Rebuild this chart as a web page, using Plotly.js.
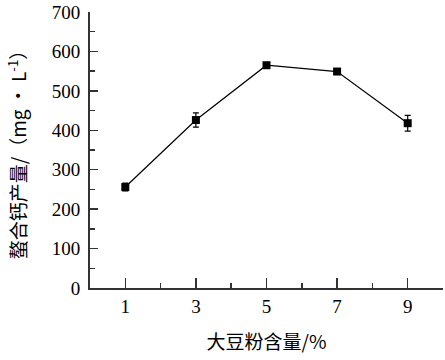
<!DOCTYPE html>
<html><head><meta charset="utf-8">
<script src="https://cdn.plot.ly/plotly-3.0.1.min.js"></script>
<style>html,body{margin:0;padding:0;background:#fff}</style>
</head><body><div id="c" style="width:445px;height:360px"></div>
<script>
const soyContent = [1, 3, 5, 7, 9];
const chelateYield = [256, 426, 565, 549, 418];
const yieldError = [10, 18, 5, 5, 20];
const xTickVals = [1, 3, 5, 7, 9];
const xTickText = ['1', '3', '5', '7', '9'];
const yTickVals = [0, 100, 200, 300, 400, 500, 600, 700];

const fontFam = 'Liberation Serif, Times New Roman, Noto Sans CJK SC, serif';
const trace = {
  x: soyContent, y: chelateYield, type: 'scatter', mode: 'lines+markers',
  line: {color: '#000', width: 1.2},
  marker: {symbol: 'square', size: 8, color: '#000'},
  error_y: {type: 'data', array: yieldError, visible: true, color: '#000', thickness: 1.2, width: 3}
};
const layout = {
  width: 445, height: 360,
  margin: {l: 90, r: 2, t: 12, b: 72},
  paper_bgcolor: '#fff', plot_bgcolor: '#fff',
  showlegend: false,
  font: {family: fontFam, color: '#000', size: 19},
  xaxis: {
    range: [0, 10], tickvals: xTickVals, ticktext: xTickText,
    ticks: 'inside', ticklen: 10, tickwidth: 1.5, tickcolor: '#333',
    minor: {tickvals: [2, 4, 6, 8, 10], ticks: 'inside', ticklen: 5, tickwidth: 1.5, tickcolor: '#333'},
    showline: true, linecolor: '#333', linewidth: 2, showgrid: false, zeroline: false,
    tickfont: {size: 19, family: fontFam},
    title: {text: '大豆粉含量/%', font: {size: 19, family: 'Noto Sans CJK SC, Liberation Serif', color: '#000'}, standoff: 20}
  },
  yaxis: {
    range: [0, 700], tickvals: yTickVals,
    ticks: 'inside', ticklen: 8, tickwidth: 1.5, tickcolor: '#333',
    minor: {dtick: 50, ticks: 'inside', ticklen: 5, tickwidth: 1.5, tickcolor: '#333'},
    showline: true, linecolor: '#333', linewidth: 2, showgrid: false, zeroline: false,
    tickfont: {size: 19, family: fontFam}, ticklabelstandoff: 4,
    title: {text: '螯合钙产量/（mg • L<sup>-1</sup>）', font: {size: 19, family: 'Noto Sans CJK SC, Liberation Serif', color: '#000'}, standoff: 20}
  }
};
Plotly.newPlot('c', [trace], layout, {displayModeBar: false, staticPlot: true});
</script></body></html>
